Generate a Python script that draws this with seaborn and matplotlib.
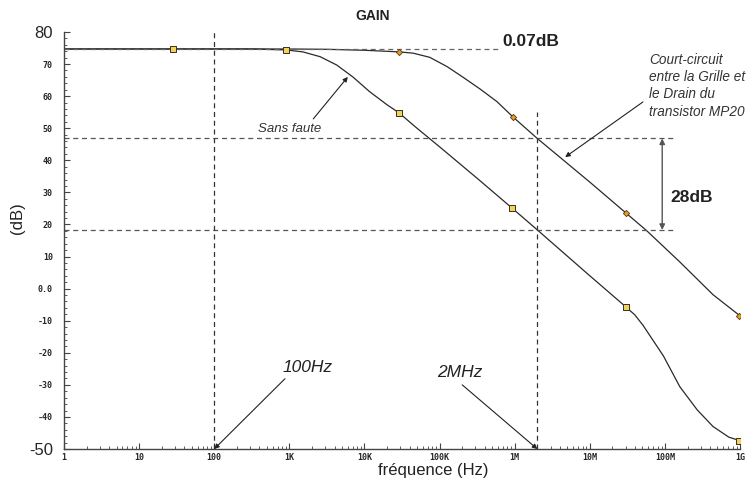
import numpy as np
import pandas as pd
import matplotlib
matplotlib.use("Agg")
import matplotlib.pyplot as plt
import seaborn as sns

# gain curves (Hz, dB)
freq_sans = [1, 10, 100, 316, 912, 1510, 2570, 4270, 7080, 11700, 20000, 28800, 50000,
             1e5, 3.16e5, 9.33e5, 2e6, 1e7, 3.02e7, 3.98e7, 5.13e7, 9.55e7, 1.58e8,
             2.69e8, 4.37e8, 7.08e8, 1e9]
gain_sans = [74.7, 74.7, 74.7, 74.7, 74.4, 73.8, 72.3, 69.7, 65.9, 61.4, 57.3, 54.8, 50.0,
             44.2, 34.4, 25.0, 18.3, 4.0, -5.7, -8.2, -11.5, -21.0, -30.6,
             -37.8, -43.0, -46.3, -47.4]

freq_cc = [1, 100, 1e3, 3.16e3, 1e4, 2.9e4, 44500, 74000, 1.26e5, 2.05e5, 3.47e5, 5.8e5,
           9.5e5, 2e6, 1e7, 3.02e7, 5.75e7, 1.58e8, 4.37e8, 1e9]
gain_cc = [74.7, 74.7, 74.7, 74.6, 74.3, 73.8, 73.4, 72.1, 69.2, 65.9, 62.2, 58.3,
           53.5, 46.8, 33.2, 23.6, 18.0, 8.3, -1.9, -8.5]

# probe markers
mk_sans_f = [28, 912, 2.88e4, 9.33e5, 3.02e7, 9.77e8]
mk_sans_g = [74.7, 74.4, 54.8, 25.0, -5.7, -47.4]
mk_cc_f = [2.9e4, 9.5e5, 3.02e7, 9.77e8]
mk_cc_g = [73.8, 53.5, 23.6, -8.5]

# reference levels
flat_level = 74.7
level_hi, level_lo = 46.8, 18.3
f_100hz, f_2mhz = 100, 2e6

xticks = [1, 10, 100, 1e3, 1e4, 1e5, 1e6, 1e7, 1e8, 1e9]
xtick_labels = ["1", "10", "100", "1K", "10K", "100K", "1M", "10M", "100M", "1G"]
yticks = [80, 70, 60, 50, 40, 30, 20, 10, 0, -10, -20, -30, -40, -50]
ytick_labels = ["80", "70", "60", "50", "40", "30", "20", "10", "0.0",
                "-10", "-20", "-30", "-40", "-50"]

sns.set_theme(style="white")
plt.rcParams['font.family'] = ['Liberation Sans', 'DejaVu Sans']

fig = plt.figure(figsize=(7.47, 4.84), dpi=100)
ax = fig.add_axes([0.0857, 0.0723, 0.905, 0.8616])

df_sans = pd.DataFrame({"f": freq_sans, "g": gain_sans})
df_cc = pd.DataFrame({"f": freq_cc, "g": gain_cc})
sns.lineplot(data=df_sans, x="f", y="g", ax=ax, color="#2a2a2a", lw=0.9)
sns.lineplot(data=df_cc, x="f", y="g", ax=ax, color="#2a2a2a", lw=0.9)

sns.scatterplot(x=mk_sans_f, y=mk_sans_g, ax=ax, marker="s", s=16,
                color="#f2d35a", edgecolor="#3a3020", linewidth=0.7, zorder=5)
sns.scatterplot(x=mk_cc_f, y=mk_cc_g, ax=ax, marker="D", s=10,
                color="#e89a2a", edgecolor="#5a3a10", linewidth=0.6, zorder=5)

ax.set_xscale("log")
ax.set_xlim(1, 1e9)
ax.set_ylim(-50, 80)
ax.set_xlabel("")
ax.set_ylabel("")

# dashed guides
ax.hlines(flat_level, 1, 6.3e5, colors="#666666", linestyles=(0, (4, 3)), lw=0.9)
ax.hlines([level_hi, level_lo], 1, 1.38e8, colors="#555555", linestyles=(0, (4, 3)), lw=0.9)
ax.vlines(f_100hz, -50, 80, colors="#333333", linestyles=(0, (4, 3)), lw=0.9)
ax.vlines(f_2mhz, -50, 55, colors="#333333", linestyles=(0, (4, 3)), lw=0.9)

# 28 dB double arrow
ax.annotate("", xy=(9.2e7, level_lo), xytext=(9.2e7, level_hi),
            arrowprops=dict(arrowstyle="<|-|>", color="#555555", lw=1.0,
                            mutation_scale=8, shrinkA=0, shrinkB=0))
ax.text(1.17e8, 28.3, "28dB", fontsize=12.5, fontweight="bold", va="center", ha="left",
        color="#222222")
ax.text(6.8e5, 76.9, "0.07dB", fontsize=12.5, fontweight="bold", va="center", ha="left",
        color="#222222")

arrow = dict(arrowstyle="-|>", color="#222222", lw=0.8, mutation_scale=7,
             shrinkA=0, shrinkB=0)
ax.text(1.02e3, 49.8, "Sans faute", fontsize=9.5, style="italic", color="#333333",
        ha="center", va="center")
ax.annotate("", xy=(6.0e3, 66.0), xytext=(2.08e3, 52.9), arrowprops=arrow)

ax.text(6.2e7, 63.3, "Court-circuit\nentre la Grille et\nle Drain du\ntransistor MP20",
        fontsize=9.8, style="italic", color="#333333", ha="left", va="center",
        linespacing=1.3)
ax.annotate("", xy=(4.7e6, 41.0), xytext=(5.1e7, 58.2), arrowprops=arrow)

ax.text(1.73e3, -24.7, "100Hz", fontsize=12.5, style="italic", color="#222222",
        ha="center", va="center")
ax.annotate("", xy=(f_100hz, -50), xytext=(873, -28.1), arrowprops=arrow)

ax.text(1.87e5, -26.2, "2MHz", fontsize=12.5, style="italic", color="#222222",
        ha="center", va="center")
ax.annotate("", xy=(f_2mhz, -50), xytext=(2.0e5, -30.0), arrowprops=arrow)

# axes styling
for side in ["top", "right"]:
    ax.spines[side].set_visible(False)
for side in ["left", "bottom"]:
    ax.spines[side].set_color("#444444")
    ax.spines[side].set_linewidth(1.0)

ax.set_xticks(xticks)
ax.set_xticklabels(xtick_labels, fontsize=6, family="DejaVu Sans Mono", fontweight="bold")
ax.set_yticks(yticks)
ax.set_yticklabels(ytick_labels, fontsize=6, family="DejaVu Sans Mono", fontweight="bold")
for lab in ax.get_yticklabels():
    if lab.get_text() in ("80", "-50"):
        lab.set_fontsize(12)
        lab.set_family("Liberation Sans")
        lab.set_fontweight("normal")
ax.set_yticks(np.arange(-50, 81, 2), minor=True)
ax.tick_params(axis="both", which="major", direction="in", length=4, width=0.8,
               color="#444444", pad=8, left=True, bottom=True)
ax.tick_params(axis="both", which="minor", direction="in", length=2, width=0.6,
               color="#444444", left=True, bottom=True)
ax.tick_params(axis="x", pad=3)

fig.text(373 / 747, 1 - 16 / 484, "GAIN", fontsize=10, fontweight="bold",
         ha="center", va="center", color="#222222")
fig.text(433 / 747, 1 - 471 / 484, "fréquence (Hz)", fontsize=12,
         ha="center", va="center", color="#222222")
fig.text(18 / 747, 1 - 218 / 484, "(dB)", fontsize=12, rotation=90,
         ha="center", va="center", color="#222222")

fig.savefig("out.png", dpi=100)
